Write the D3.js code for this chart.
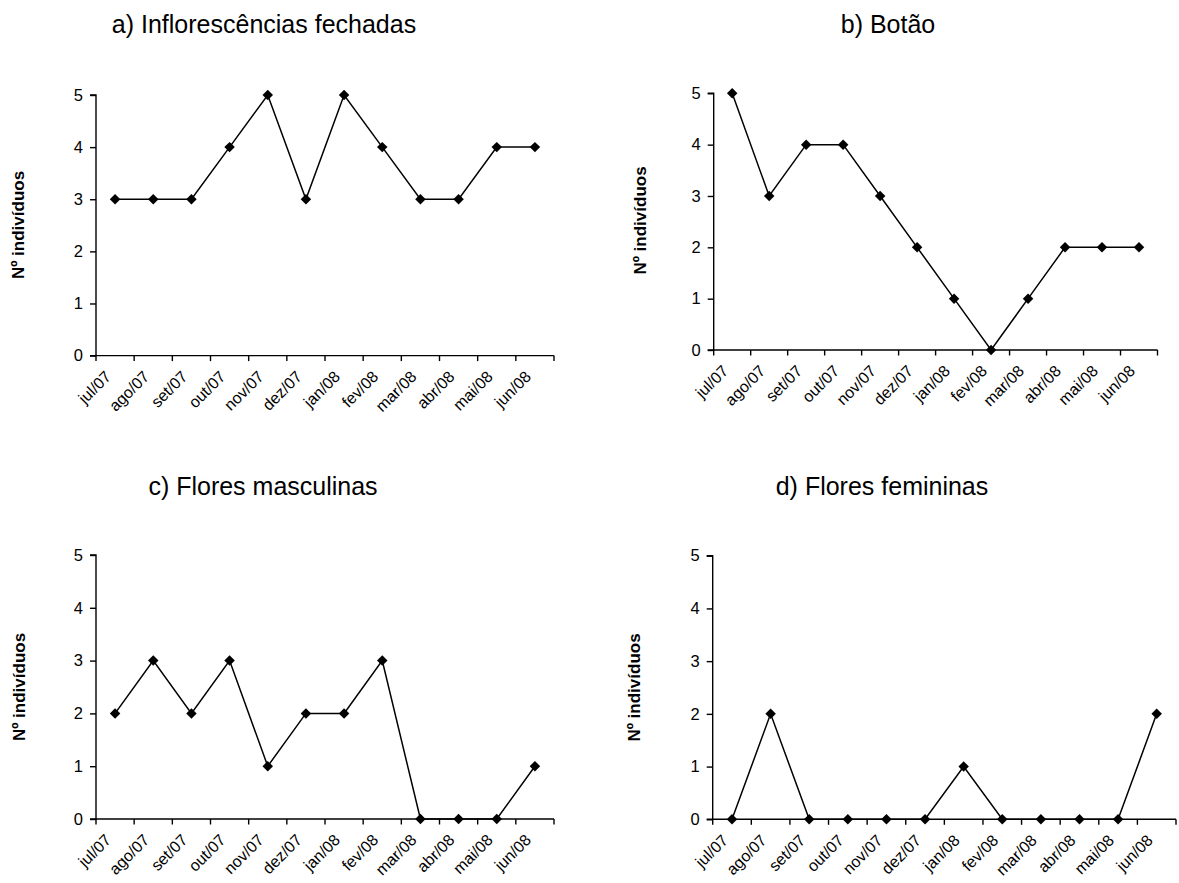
<!DOCTYPE html>
<html><head><meta charset="utf-8">
<script src="https://cdn.jsdelivr.net/npm/d3@7"></script>
<style>body{margin:0;background:#fff}svg{display:block}text{font-family:"Liberation Sans",Arial,sans-serif;fill:#000}</style>
</head><body>
<script>
const months = ["jul/07","ago/07","set/07","out/07","nov/07","dez/07","jan/08","fev/08","mar/08","abr/08","mai/08","jun/08"];
const yTicks = [0,1,2,3,4,5];
const titles = ["a) Inflorescências fechadas","b) Botão","c) Flores masculinas","d) Flores femininas"];
const yLabel = "Nº indivíduos";
const inflorescencias = [3,3,3,4,5,3,5,4,3,3,4,4];
const botao = [5,3,4,4,3,2,1,0,1,2,2,2];
const masculinas = [2,3,2,3,1,2,2,3,0,0,0,1];
const femininas = [0,2,0,0,0,0,1,0,0,0,0,2];
const seriesList = [inflorescencias, botao, masculinas, femininas];

// layout
const layout = [
  {x0:96, x1:554, yT:95, yB:355.6, tx:264, ty:33, lx:18, ly:225},
  {x0:713.7, x1:1157.5, yT:93.3, yB:350, tx:888, ty:33, lx:640, ly:220.5},
  {x0:96, x1:554, yT:555, yB:819, tx:263, ty:495, lx:19, ly:687},
  {x0:712.7, x1:1176, yT:555.7, yB:819.3, tx:882, ty:495, lx:634, ly:687.5}
];

const svg = d3.select("body").append("svg").attr("width",1179).attr("height",883);

const diamond = {draw(ctx,size){const r=Math.sqrt(size)/2;ctx.moveTo(0,-r);ctx.lineTo(r,0);ctx.lineTo(0,r);ctx.lineTo(-r,0);ctx.closePath();}};

seriesList.forEach((vals,k)=>{
  const L = layout[k];
  const g = svg.append("g");
  const x = d3.scaleBand().domain(months).range([L.x0,L.x1]).padding(0);
  const y = d3.scaleLinear().domain([0,5]).range([L.yB,L.yT]);

  // title
  g.append("text").attr("x",L.tx).attr("y",L.ty).attr("text-anchor","middle")
    .style("font-size","25px").text(titles[k]);
  // y label
  g.append("text").attr("transform",`translate(${L.lx},${L.ly}) rotate(-90)`)
    .attr("text-anchor","middle").attr("dy","0.35em")
    .style("font-size","17px").style("font-weight","bold").text(yLabel);

  // y axis
  const ya = g.append("g").attr("transform",`translate(${L.x0},0)`)
    .call(d3.axisLeft(y).tickValues(yTicks).tickFormat(d3.format("d")).tickSize(6).tickPadding(7));
  ya.select(".domain").attr("stroke","#000").attr("stroke-width",1.4).attr("d",`M-6,${L.yT}H0V${L.yB}H-6`);
  ya.selectAll(".tick line").attr("stroke","#000").attr("stroke-width",1.4);
  ya.selectAll(".tick text").style("font-size","16.5px").attr("font-family",null);

  // x axis
  const tickPos = months.map(m=>x(m)).concat([L.x1]);
  g.append("line").attr("x1",L.x0).attr("x2",L.x1).attr("y1",L.yB).attr("y2",L.yB)
    .attr("stroke","#000").attr("stroke-width",1.4);
  g.selectAll(".xt").data(tickPos).enter().append("line")
    .attr("x1",d=>d).attr("x2",d=>d).attr("y1",L.yB).attr("y2",L.yB+5.5)
    .attr("stroke","#000").attr("stroke-width",1.4);
  g.selectAll(".xl").data(months).enter().append("text")
    .attr("transform",d=>`translate(${x(d)+x.bandwidth()/2-11},${L.yB+14}) rotate(-45)`)
    .attr("text-anchor","end").attr("dy","0.71em")
    .style("font-size","16px").text(d=>d);

  // line
  const line = d3.line().x((d,i)=>x(months[i])+x.bandwidth()/2).y(d=>y(d));
  g.append("path").datum(vals).attr("d",line).attr("fill","none").attr("stroke","#000").attr("stroke-width",1.5);
  g.selectAll(".pt").data(vals).enter().append("path")
    .attr("transform",(d,i)=>`translate(${x(months[i])+x.bandwidth()/2},${y(d)})`)
    .attr("d",d3.symbol().type(diamond).size(110)).attr("fill","#000");
});
</script>
</body></html>
